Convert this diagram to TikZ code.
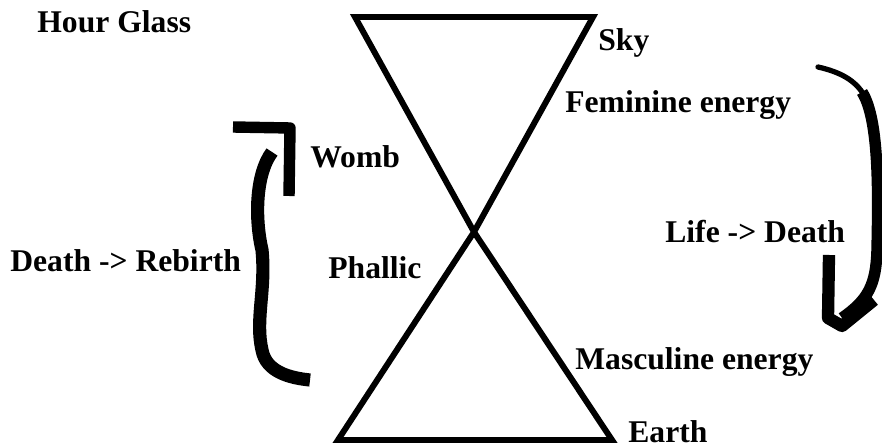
\documentclass[tikz,border=0pt]{standalone}
\usepackage{fontspec}
\setmainfont{Liberation Serif}
\usetikzlibrary{positioning,calc}
\tikzset{
  lbl/.style={font=\fontsize{18}{20}\selectfont\bfseries,anchor=west,inner sep=0pt},
  glass/.style={draw,line width=3.4pt,line join=miter},
  brush/.style={draw,line width=5.5pt,line cap=butt,line join=round},
  thinbrush/.style={draw,line width=3pt,line cap=round}
}
\begin{document}
\begin{tikzpicture}[x=0.02cm,y=-0.02cm]
  \useasboundingbox[fill=white] (0,0) rectangle (882,448);

  % Hour glass
  \coordinate (tl) at (355,17);
  \coordinate (tr) at (593,17);
  \coordinate (waist) at (474,232);
  \coordinate (bl) at (338,440);
  \coordinate (br) at (612,440);
  \draw[glass] (tl) -- (tr) -- (waist) -- (bl) -- (br) -- (waist) -- cycle;

  % Labels
  \node[lbl] (title) at (37,22) {Hour Glass};
  \node[lbl] (sky) at (598,43) {Sky};
  \node[lbl] (fem) at (565,105) {Feminine energy};
  \node[lbl] (womb) at (310,157) {Womb};
  \node[lbl] (rebirth) at (10,261) {Death -> Rebirth};
  \node[lbl] (phallic) at (328,268) {Phallic};
  \node[lbl] (death) at (665,232) {Life -> Death};
  \node[lbl] (masc) at (575,362) {Masculine energy};
  \node[lbl] (earth) at (628,432) {Earth};

  % Death -> Rebirth stroke
  \draw[brush,line width=6.5pt] (233,127) -- (290,128) -- (289,196);
  \draw[brush,line width=7.5pt] (272,152) .. controls (255,175) and (255,220) .. (262,250)
    .. controls (266,290) and (255,320) .. (262,350)
    .. controls (266,372) and (290,378) .. (310,380);

  % Life -> Death stroke
  \draw[thinbrush] (818,67) .. controls (840,72) and (855,80) .. (864,95);
  \draw[brush,line width=6.5pt] (862,92) .. controls (880,120) and (878,200) .. (877,250)
    .. controls (876,285) and (868,300) .. (842,318);
  \draw[brush,line width=7pt] (829,255) -- (828,318) -- (842,326) -- (874,300);
\end{tikzpicture}
\end{document}
